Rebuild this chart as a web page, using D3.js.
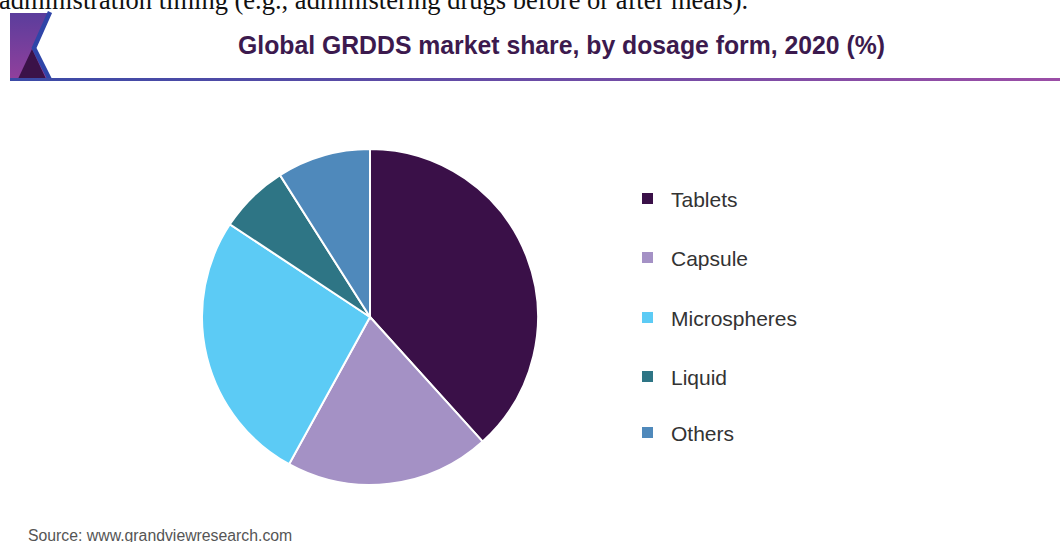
<!DOCTYPE html>
<html>
<head>
<meta charset="utf-8">
<script src="https://cdn.jsdelivr.net/npm/d3@7"></script>
<style>
  body { margin: 0; background: #fff; }
  svg { display: block; }
</style>
</head>
<body>
<svg id="chart" width="1060" height="542"></svg>
<script>
// chart data
const categories = ['Tablets', 'Capsule', 'Microspheres', 'Liquid', 'Others'];
const shares = [38.3, 19.7, 26.3, 6.7, 9.0];
const colors = ['#3a1048', '#a491c5', '#5ccbf5', '#2e7585', '#4f89bb'];

const svg = d3.select('#chart');

// gradients for header
const defs = svg.append('defs');
const lineGrad = defs.append('linearGradient').attr('id', 'lineGrad');
lineGrad.append('stop').attr('offset', '0%').attr('stop-color', '#3a4aa6');
lineGrad.append('stop').attr('offset', '100%').attr('stop-color', '#9b4ea6');

const logoGrad = defs.append('linearGradient').attr('id', 'logoGrad')
    .attr('x1', 0).attr('y1', 0).attr('x2', 0).attr('y2', 1);
logoGrad.append('stop').attr('offset', '0%').attr('stop-color', '#5b3d9c');
logoGrad.append('stop').attr('offset', '100%').attr('stop-color', '#93409c');

// text from the page above the image (cut off at top)
svg.append('text')
    .attr('x', -1).attr('y', 9)
    .style('font-family', '"Liberation Serif", "Times New Roman", serif')
    .style('font-size', '26.5px')
    .style('fill', '#111')
    .text('administration timing (e.g., administering drugs before or after meals).');

// logo
const logo = svg.append('g');
logo.append('path')
    .attr('d', 'M10,13 L51,13 L35,48 L50,81 L10,81 Z')
    .attr('fill', 'url(#logoGrad)');
logo.append('path')
    .attr('d', 'M32,49 L17,81 L47,81 Z')
    .attr('fill', '#3b1248');
logo.append('path')
    .attr('d', 'M50,12 L34,48 L50,80')
    .attr('fill', 'none')
    .attr('stroke', '#2f45a8')
    .attr('stroke-width', 4.5);

// header line
svg.append('rect')
    .attr('x', 10).attr('y', 78)
    .attr('width', 1050).attr('height', 3)
    .attr('fill', 'url(#lineGrad)');

// title
svg.append('text')
    .attr('x', 238).attr('y', 54)
    .attr('textLength', 647)
    .attr('lengthAdjust', 'spacingAndGlyphs')
    .style('font-family', '"Liberation Sans", Arial, sans-serif')
    .style('font-weight', 'bold')
    .style('font-size', '25px')
    .style('fill', '#3c1a4e')
    .text('Global GRDDS market share, by dosage form, 2020 (%)');

// pie
const cx = 370, cy = 317, radius = 168;
const color = d3.scaleOrdinal().domain(categories).range(colors);

const pie = d3.pie().sort(null).value(d => d.value);
const arc = d3.arc().innerRadius(0).outerRadius(radius);

const data = categories.map((c, i) => ({ name: c, value: shares[i] }));

svg.append('g')
    .attr('transform', `translate(${cx},${cy})`)
    .selectAll('path')
    .data(pie(data))
    .join('path')
    .attr('d', arc)
    .attr('fill', d => color(d.data.name))
    .attr('stroke', '#fff')
    .attr('stroke-width', 2);

// legend
const legendYs = [199, 258, 318, 377, 433];

const legend = svg.append('g')
    .selectAll('g')
    .data(categories)
    .join('g')
    .attr('transform', (d, i) => `translate(642,${legendYs[i]})`);

legend.append('rect')
    .attr('x', 0).attr('y', -6)
    .attr('width', 11).attr('height', 11)
    .attr('fill', d => color(d));

legend.append('text')
    .attr('x', 29).attr('y', 7.5)
    .style('font-family', '"Liberation Sans", Arial, sans-serif')
    .style('font-size', '21px')
    .style('fill', '#333')
    .text(d => d);

// source
svg.append('text')
    .attr('x', 28).attr('y', 541)
    .style('font-family', '"Liberation Sans", Arial, sans-serif')
    .style('font-size', '15.8px')
    .style('fill', '#555')
    .text('Source: www.grandviewresearch.com');
</script>
</body>
</html>
